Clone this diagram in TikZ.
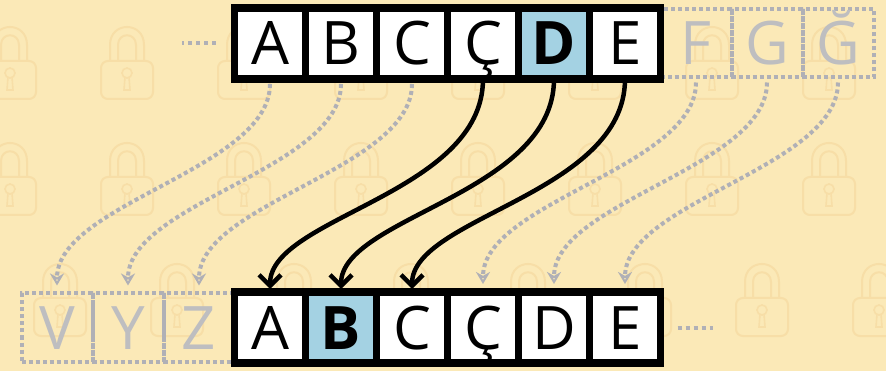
\documentclass[tikz,border=0pt]{standalone}
\usepackage{fontspec}
\setmainfont{Open Sans}
\usetikzlibrary{arrows.meta,positioning,backgrounds}
\definecolor{bgyellow}{RGB}{251,233,183}
\definecolor{lockline}{RGB}{247,222,167}
\definecolor{hiblue}{RGB}{164,210,227}
\definecolor{ghostgray}{RGB}{190,190,192}
\definecolor{dotgray}{RGB}{176,176,182}

\tikzset{
  lock/.pic={
    \draw[lockline, line width=2pt, rounded corners=7pt] (-26,-2) rectangle (26,36);
    \draw[lockline, line width=2pt] (-17,-2) -- (-17,-18)
      .. controls (-17,-42) and (17,-42) .. (17,-18) -- (17,-2);
    \draw[lockline, line width=2pt] (-9,-2) -- (-9,-18)
      .. controls (-9,-31) and (9,-31) .. (9,-18) -- (9,-2);
    \draw[lockline, line width=1.6pt] (0,10) circle[radius=5];
    \draw[lockline, line width=1.6pt] (-2,14) -- (-3,27) -- (3,27) -- (2,14);
  }
}

\begin{document}
\begin{tikzpicture}[
  x=1pt, y=-1pt, node distance=0pt,
  letter/.style={font=\fontsize{60}{60}\selectfont, text height=43pt,
                 text depth=0pt, inner sep=0pt, outer sep=0pt,
                 minimum width=71pt, minimum height=71pt},
  cell/.style={letter, draw=black, line width=7.5pt, fill=white},
  hicell/.style={cell, fill=hiblue, font=\fontsize{60}{60}\selectfont\bfseries},
  ghost/.style={letter, draw=dotgray, line width=4pt, dash pattern=on 4pt off 3pt,
                text=ghostgray, minimum height=68pt},
  ar/.style={-{Straight Barb[length=11pt,width=22pt]}, line width=4.5pt,
             shorten >=3pt},
  gar/.style={-{Stealth[open,length=12pt,width=14pt,line width=2.5pt]}, dotgray,
              line width=4pt, dash pattern=on 4pt off 3pt,
              shorten <=5pt, shorten >=8pt},
  dotrun/.style={dotgray, line width=4pt, dash pattern=on 4pt off 4pt}
]
\useasboundingbox (0,0) rectangle (886,371);

% ---- background with locks ---------------------------------------------
\begin{scope}[on background layer]
\fill[bgyellow] (0,0) rectangle (886,371);
\foreach \x in {10,127,...,830} {
  \pic at (\x,63) {lock};
  \pic at (\x,179) {lock};
}
\foreach \x in {60,177,...,880} \pic at (\x,300) {lock};
\end{scope}

% ---- plain alphabet (top) ----------------------------------------------
\node[cell] (tA) at (270,43.5) {A};
\node[cell, right=of tA] (tB) {B};
\node[cell, right=of tB] (tC) {C};
\node[cell, right=of tC] (tCc) {Ç};
\node[hicell, right=of tCc] (tD) {D};
\node[cell, right=of tD] (tE) {E};

% ---- shifted alphabet (bottom) -----------------------------------------
\node[cell] (bA) at (270,327.5) {A};
\node[hicell, right=of bA] (bB) {B};
\node[cell, right=of bB] (bC) {C};
\node[cell, right=of bC] (bCc) {Ç};
\node[cell, right=of bCc] (bD) {D};
\node[cell, right=of bD] (bE) {E};

% ---- faded letters ------------------------------------------------------
\begin{scope}[on background layer]
\node[ghost, right=of tE] (tF) {F};
\node[ghost, right=of tF] (tG) {G};
\node[ghost, right=of tG] (tGb) {Ğ};
\node[ghost, left=of bA] (bZ) {Z};
\node[ghost, left=of bZ] (bY) {Y};
\node[ghost, left=of bY] (bV) {V};
\end{scope}

\coordinate[left=19pt of tA.west] (tdots);
\coordinate[right=17pt of bE.east] (bdots);
\draw[dotrun] (tdots) -- ++(-34,0);
\draw[dotrun] (bdots) -- ++(35,0);

% ---- shifts -------------------------------------------------------------
\foreach \s/\t in {tA/bV, tB/bY, tC/bZ, tF/bCc, tG/bD, tGb/bE}
  \draw[gar] (\s.south) .. controls +(0,90) and +(0,-90) .. (\t.north);
\foreach \s/\t in {tCc/bA, tD/bB, tE/bC}
  \draw[ar] (\s.south) .. controls +(0,115) and +(0,-75) .. (\t.north);
\end{tikzpicture}
\end{document}
